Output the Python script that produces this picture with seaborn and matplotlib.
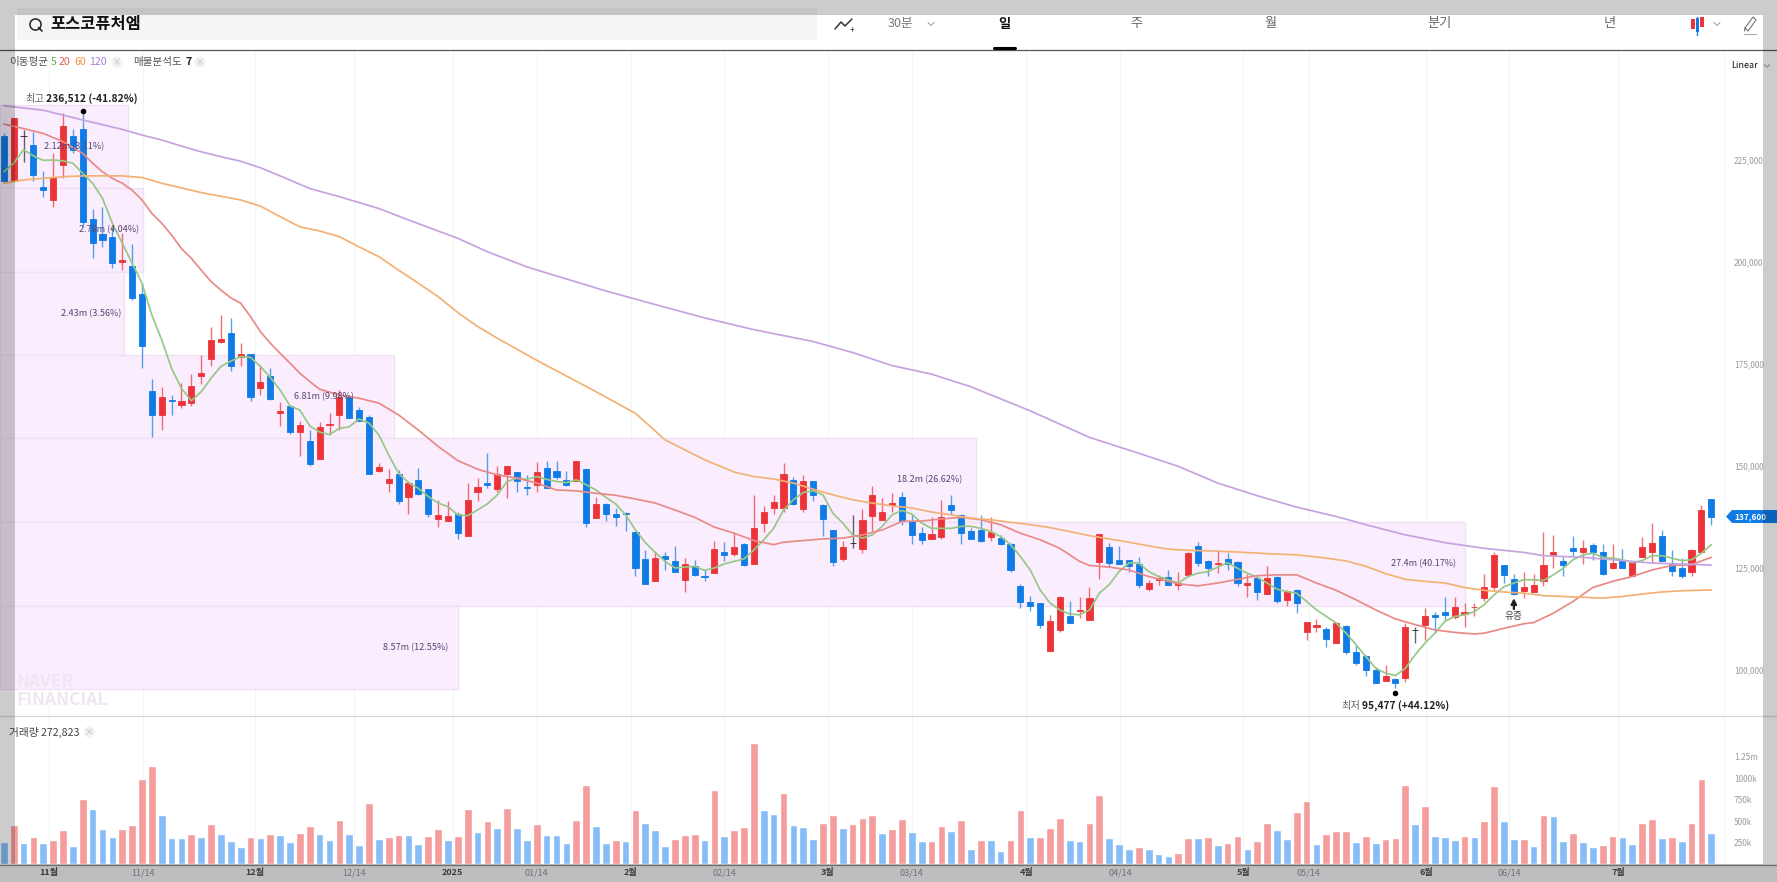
import numpy as np
import pandas as pd
import matplotlib.pyplot as plt
from matplotlib.lines import Line2D
from matplotlib.patches import Rectangle, Polygon
import seaborn as sns

W, H = 1777, 882

# candles, in thousands of won, one entry per trading day
candle_dir = ("dufdd uuddd ddudd duduu uuudu dudud uduuu ddduu duddu uduud uuddu dddud "
              "udddd duddu ddudu duuuu duddd ufuuu udddu udddd udddd duudu uuddd duudu "
              "uddud dudud uduud udddd udufu dduuu uuddu uuudd uddud uuudd duud").replace(" ", "")
highs = [231.5, 235.3, 232.3, 231.8, 222.2, 226.6, 236.4, 232.7, 236.5, 213.1, 213.5, 208.6, 207.0, 204.4, 194.8,
         171.4, 169.3, 167.4, 170.4, 172.5, 177.2, 184.0, 186.9, 186.2, 180.1, 177.4, 174.8, 173.9, 165.6, 165.0,
         160.9, 158.7, 160.7, 162.9, 168.6, 167.0, 164.4, 162.5, 150.7, 149.2, 148.9, 146.2, 149.4, 144.4, 141.7,
         141.3, 138.8, 145.9, 147.0, 153.1, 150.1, 150.1, 148.6, 147.8, 150.9, 151.2, 151.2, 148.8, 151.2, 149.6,
         142.3, 140.9, 139.7, 138.6, 134.1, 129.4, 129.0, 128.8, 130.4, 127.4, 127.0, 124.5, 131.7, 131.3, 133.7,
         131.1, 142.8, 140.1, 142.9, 150.8, 147.4, 147.8, 146.4, 140.6, 134.3, 131.7, 138.0, 139.5, 145.1, 142.1,
         143.3, 143.5, 138.2, 135.0, 137.4, 141.7, 142.8, 138.3, 134.7, 138.0, 137.4, 133.1, 131.2, 121.0, 118.0,
         116.5, 113.5, 118.0, 117.0, 117.8, 120.3, 133.4, 131.1, 130.4, 127.0, 127.6, 122.1, 123.3, 124.5, 123.9,
         129.0, 131.3, 127.0, 129.3, 128.6, 126.6, 123.5, 122.7, 125.5, 122.9, 119.6, 119.9, 111.8, 112.4, 110.6,
         111.6, 110.9, 106.2, 103.7, 100.6, 101.1, 98.0, 111.6, 110.6, 115.1, 114.3, 117.8, 117.8, 116.5, 116.5,
         123.5, 129.0, 125.8, 123.5, 124.1, 123.5, 133.9, 133.1, 127.6, 132.9, 131.9, 131.1, 130.8, 130.8, 129.6,
         126.8, 132.5, 136.1, 134.3, 129.3, 127.4, 129.6, 140.5, 141.9]
body_tops = [231.0, 235.3, 231.0, 228.6, 218.4, 220.8, 233.4, 231.0, 232.7, 210.5, 206.8, 206.2, 200.5, 199.1, 192.1,
             168.3, 166.9, 166.1, 165.8, 169.6, 172.7, 180.9, 181.1, 182.5, 177.4, 177.4, 170.5, 172.1, 163.4, 164.7,
             160.1, 156.1, 159.6, 160.3, 166.8, 166.8, 163.6, 161.9, 149.7, 146.7, 148.1, 145.7, 146.6, 144.3, 137.9,
             137.7, 138.2, 141.7, 144.9, 145.7, 148.1, 150.1, 148.5, 144.9, 148.4, 149.4, 148.8, 146.5, 151.1, 149.2,
             140.7, 140.7, 138.1, 138.4, 133.9, 127.2, 127.5, 128.0, 126.6, 125.9, 125.4, 123.1, 129.7, 128.9, 130.2,
             130.8, 134.7, 138.6, 141.2, 148.1, 146.6, 146.3, 146.4, 140.5, 134.3, 130.2, 131.2, 136.8, 142.8, 138.8,
             141.0, 142.5, 136.5, 133.5, 133.2, 137.6, 140.4, 137.9, 134.1, 134.3, 133.9, 132.3, 130.8, 120.5, 116.6,
             116.4, 111.9, 117.9, 113.3, 114.6, 117.7, 133.2, 130.2, 127.0, 126.9, 125.9, 121.4, 122.5, 122.7, 121.3,
             128.6, 130.3, 126.6, 126.2, 127.2, 126.5, 121.2, 122.5, 122.6, 122.8, 119.3, 119.7, 111.8, 110.9, 110.0,
             111.5, 110.8, 104.4, 103.5, 100.0, 98.6, 97.7, 110.6, 109.9, 113.1, 113.5, 114.2, 115.3, 114.1, 115.5,
             120.2, 128.2, 125.7, 122.2, 120.2, 120.9, 125.8, 129.0, 126.6, 129.8, 129.9, 130.6, 129.0, 126.3, 126.6,
             126.7, 130.1, 131.1, 132.8, 126.0, 124.9, 129.4, 139.1, 141.9]
body_bottoms = [219.8, 219.8, 231.0, 221.4, 217.6, 215.2, 223.8, 227.4, 209.9, 204.6, 205.4, 199.7, 200.0, 191.1, 179.5,
                162.4, 162.4, 165.9, 165.0, 165.5, 172.1, 176.3, 180.3, 174.6, 176.6, 167.0, 169.2, 166.4, 163.0, 158.2,
                158.2, 150.4, 151.7, 160.1, 162.4, 161.7, 161.1, 148.1, 148.8, 145.7, 141.4, 142.4, 143.1, 138.3, 136.9,
                136.6, 133.5, 132.9, 143.5, 145.4, 144.3, 148.0, 146.3, 144.6, 145.4, 144.7, 147.3, 145.4, 146.3, 136.1,
                137.2, 138.2, 137.6, 138.2, 125.1, 121.1, 121.8, 127.2, 124.0, 122.0, 123.2, 122.8, 123.8, 128.2, 128.5,
                125.8, 126.0, 136.0, 139.6, 139.7, 140.7, 139.5, 142.8, 137.0, 126.4, 127.2, 131.2, 129.6, 137.8, 136.8,
                140.5, 136.6, 133.1, 131.9, 132.2, 132.7, 139.1, 133.5, 132.2, 131.5, 132.7, 130.8, 124.5, 116.7, 115.7,
                111.0, 104.7, 109.8, 111.6, 114.4, 112.3, 126.5, 126.2, 126.0, 125.4, 120.9, 119.9, 122.0, 120.8, 120.9,
                123.3, 126.2, 124.9, 125.9, 126.0, 121.3, 120.8, 119.0, 118.7, 116.9, 117.2, 116.5, 109.4, 110.5, 107.6,
                106.6, 104.5, 101.7, 100.0, 96.9, 97.4, 96.8, 98.0, 109.9, 111.0, 112.9, 113.4, 112.9, 113.8, 115.3,
                117.7, 120.2, 123.2, 118.5, 119.3, 119.1, 121.7, 128.2, 125.8, 129.1, 128.9, 129.0, 123.5, 124.9, 125.0,
                123.1, 127.6, 128.9, 126.7, 124.3, 123.1, 124.0, 128.9, 137.6]
lows = [219.8, 219.8, 224.6, 219.9, 216.0, 213.5, 220.5, 226.6, 208.6, 200.9, 203.7, 198.4, 198.0, 190.7, 173.9,
        157.0, 158.8, 162.5, 164.1, 164.6, 170.1, 174.6, 180.2, 173.3, 174.6, 165.9, 167.4, 166.2, 159.9, 157.8,
        152.5, 150.1, 151.7, 157.6, 158.8, 161.7, 160.9, 148.1, 148.5, 143.7, 140.7, 138.1, 142.9, 137.6, 135.1,
        136.6, 132.2, 132.9, 141.3, 144.5, 143.7, 142.1, 143.7, 142.9, 143.5, 144.5, 146.7, 145.2, 146.2, 135.1,
        137.2, 136.4, 135.2, 134.1, 122.9, 121.1, 121.8, 124.5, 124.0, 119.0, 123.1, 121.7, 123.7, 126.6, 128.0,
        125.4, 126.0, 133.8, 138.2, 138.6, 140.5, 138.8, 141.5, 132.9, 125.4, 126.7, 129.8, 128.6, 134.1, 136.8,
        138.6, 135.6, 130.9, 130.9, 132.1, 132.1, 138.0, 130.9, 132.1, 131.4, 131.5, 130.7, 123.9, 115.1, 114.5,
        110.2, 104.7, 109.4, 111.6, 112.7, 112.3, 122.2, 125.4, 125.9, 124.1, 120.0, 119.4, 120.7, 120.7, 119.6,
        123.3, 125.5, 123.1, 123.7, 124.5, 120.6, 117.8, 117.2, 118.7, 116.4, 115.7, 113.9, 107.4, 109.3, 105.7,
        106.6, 103.9, 101.1, 98.6, 96.9, 97.4, 95.5, 97.0, 106.7, 107.4, 109.0, 112.3, 112.4, 110.5, 113.1,
        116.8, 119.6, 121.3, 118.4, 117.6, 119.1, 120.5, 124.9, 122.9, 127.8, 126.0, 127.0, 123.3, 124.8, 124.9,
        123.1, 127.6, 126.2, 126.6, 123.1, 122.5, 123.1, 128.6, 135.4]
last_price = 137.6

# volume in thousands of shares
volumes = [256, 453, 244, 310, 244, 275, 395, 213, 760, 643, 403, 318, 403, 453, 992, 1140, 570, 298, 298, 349,
           318, 465, 349, 267, 202, 318, 298, 349, 341, 256, 360, 446, 349, 275, 508, 349, 225, 709, 287, 318,
           341, 341, 236, 329, 403, 275, 329, 643, 372, 496, 422, 655, 422, 275, 465, 341, 341, 244, 508, 926,
           446, 244, 275, 267, 624, 477, 391, 213, 287, 341, 349, 275, 857, 329, 391, 434, 1411, 632, 581, 833,
           453, 434, 287, 477, 570, 415, 465, 539, 570, 360, 403, 527, 372, 267, 267, 446, 384, 508, 171, 275,
           275, 151, 275, 632, 318, 318, 415, 539, 275, 267, 477, 810, 298, 236, 171, 194, 171, 120, 97, 128,
           298, 298, 318, 225, 244, 329, 171, 267, 477, 391, 287, 601, 729, 236, 349, 380, 380, 256, 329, 244,
           287, 298, 915, 465, 674, 329, 310, 275, 329, 310, 496, 907, 496, 287, 287, 213, 570, 562, 267, 360,
           256, 194, 225, 329, 318, 236, 477, 519, 298, 310, 267, 477, 992, 360]
volume_dir = ("brbrb rrbrb bbrrr rbbbr brbbb rbrbb rrbbr bbrbr rbbrr brrbr brbbr bbbrr "
              "bbrbr bbbrr rbrbr rrbbr bbbrr brrrb rrbbr rbrbr bbrrb rrrbb rrbbb rbbbr "
              "rbrbr rbrrb brrbr rrbrb rrrbr bbbrb rrbbr brbbr bbrrb brrbr brrb").replace(" ", "")

# moving averages
ma5 = [222.1, 224.2, 227.5, 226.0, 224.9, 225.0, 224.8, 224.2, 221.7, 219.3, 215.6, 209.5, 204.6, 199.7, 194.8,
       187.0, 180.9, 173.9, 169.0, 166.0, 168.2, 171.5, 174.4, 175.7, 176.8, 176.6, 174.4, 171.7, 168.6, 164.7,
       163.7, 159.8, 158.3, 157.7, 159.2, 159.6, 161.5, 160.5, 157.6, 152.7, 148.2, 145.9, 144.5, 142.5, 140.9,
       140.0, 138.0, 137.8, 139.2, 140.7, 142.9, 146.2, 147.0, 146.7, 147.4, 146.7, 146.2, 145.9, 146.6, 145.4,
       144.1, 142.3, 140.7, 138.0, 134.3, 131.2, 128.8, 126.6, 125.0, 125.2, 125.4, 124.4, 125.0, 126.0, 126.6,
       127.2, 129.4, 131.9, 134.7, 139.2, 141.7, 143.5, 143.9, 142.9, 138.4, 136.0, 133.1, 132.3, 133.1, 135.2,
       138.0, 139.1, 138.2, 136.0, 134.7, 134.7, 134.7, 135.2, 135.2, 134.7, 133.9, 132.7, 130.7, 127.8, 124.5,
       119.6, 116.4, 114.7, 113.7, 113.5, 114.7, 118.8, 120.9, 124.1, 126.2, 126.2, 124.1, 122.9, 122.1, 121.3,
       122.9, 123.7, 124.1, 125.2, 126.3, 124.9, 123.7, 122.7, 121.3, 119.8, 119.2, 118.8, 116.8, 114.7, 113.1,
       111.5, 109.0, 106.2, 103.3, 100.4, 99.2, 98.6, 100.4, 103.7, 106.6, 109.0, 111.9, 113.1, 113.5, 114.3,
       116.0, 118.4, 120.4, 121.3, 122.1, 122.1, 121.9, 123.3, 124.9, 127.0, 128.2, 128.6, 127.6, 127.4, 127.0,
       126.3, 126.8, 128.0, 128.0, 127.4, 126.8, 127.0, 128.6, 130.7]
ma20_days = [0, 2, 4, 6, 8, 9, 10, 11, 12, 13, 14, 15, 16, 17, 18, 19, 20, 21, 22, 23, 24, 25, 26, 27, 28, 29, 30, 31, 32,
             34, 36, 38, 40, 42, 44, 46, 48, 50, 52, 54, 56, 58, 60, 62, 64, 66, 68, 70, 72, 74, 76, 78, 79, 81, 83, 85,
             87, 89, 91, 93, 95, 97, 99, 101, 103, 105, 107, 109, 110, 112, 114, 116, 118, 119, 121, 123, 125, 127, 129,
             131, 133, 135, 137, 139, 141, 143, 145, 147, 149, 150, 152, 154, 155, 157, 159, 161, 163, 165, 167, 169,
             171, 173]
ma20 = [233.8, 232.7, 231.5, 229.5, 226.6, 224.2, 222.1, 220.5, 219.3, 217.6, 215.2, 211.9, 209.5, 206.6, 203.3, 200.9,
        198.0, 195.2, 193.1, 191.2, 189.9, 186.6, 182.9, 180.1, 177.6, 175.2, 172.7, 170.7, 168.8, 167.4, 166.6, 165.4,
        162.5, 158.8, 154.8, 151.3, 149.2, 147.8, 147.0, 145.8, 144.1, 143.9, 143.3, 142.8, 141.9, 140.9, 139.2, 137.4,
        135.0, 133.5, 131.7, 130.7, 131.3, 131.7, 132.1, 132.3, 133.1, 134.3, 136.4, 136.5, 137.0, 137.4, 136.8, 135.6,
        133.5, 131.9, 129.8, 126.6, 125.6, 125.2, 124.5, 122.9, 121.7, 121.1, 120.6, 121.3, 122.2, 123.1, 123.3, 123.3,
        121.3, 119.5, 117.2, 114.7, 112.5, 111.1, 109.8, 109.2, 108.8, 109.0, 110.2, 111.3, 111.6, 113.9, 116.8, 120.2,
        121.7, 122.9, 124.5, 125.6, 125.8, 127.6]
ma60_days = [0, 2, 4, 6, 8, 12, 14, 16, 20, 24, 26, 28, 30, 32, 34, 36, 38, 40, 42, 44, 46, 48, 50, 52, 54, 60, 64, 67,
             71, 74, 76, 78, 80, 82, 84, 86, 88, 90, 92, 94, 96, 98, 100, 102, 104, 106, 108, 110, 112, 114, 116, 118,
             120, 122, 125, 128, 131, 134, 136, 138, 140, 142, 144, 146, 148, 150, 152, 154, 156, 158, 160, 162, 164,
             166, 168, 170, 173]
ma60 = [219.3, 220.1, 220.5, 220.9, 221.1, 221.1, 220.7, 219.3, 217.0, 215.2, 213.7, 211.1, 208.6, 207.6, 206.2, 203.7,
        201.3, 198.0, 194.8, 191.5, 187.6, 184.2, 181.3, 178.6, 175.9, 168.2, 162.9, 156.4, 151.5, 148.5, 147.4,
        146.8, 145.8, 144.3, 142.9, 141.7, 140.9, 140.2, 139.7, 138.7, 138.0, 137.2, 136.8, 136.2, 135.6, 134.9, 133.9,
        132.9, 132.1, 131.3, 130.4, 129.6, 129.3, 129.2, 128.9, 128.5, 128.2, 127.4, 126.7, 125.4, 123.6, 122.2, 121.7,
        121.3, 120.2, 119.5, 119.1, 118.8, 118.2, 118.0, 117.8, 117.6, 118.0, 118.6, 119.1, 119.4, 119.6]
ma120_days = [0, 4, 6, 8, 12, 14, 16, 18, 20, 22, 24, 26, 28, 31, 34, 38, 41, 46, 49, 53, 55, 61, 67, 71, 76, 82, 86, 90,
              94, 98, 104, 110, 115, 119, 123, 127, 131, 135, 138, 142, 146, 150, 154, 156, 160, 164, 167, 173]
ma120 = [238.3, 237.2, 236.0, 234.8, 232.5, 231.1, 229.9, 228.4, 227.0, 225.8, 224.7, 223.1, 221.1, 218.0, 216.0,
         213.1, 210.3, 205.8, 202.5, 198.8, 197.3, 192.9, 188.9, 186.3, 183.4, 180.5, 177.8, 174.6, 172.5, 169.4, 163.5,
         157.0, 153.1, 149.9, 145.8, 142.7, 139.9, 137.6, 135.6, 133.1, 131.2, 129.8, 128.8, 128.0, 127.6, 126.8, 126.2,
         125.7]

# 매물분석도 (price-volume profile), top to bottom
profile_edges = [238.5, 218.1, 197.5, 177.2, 156.9, 136.3, 115.7, 95.3]
profile_ends = [12.6, 14.1, 12.2, 39.5, 98.5, 148.0, 46.0]
profile_labels = ["2.12m (3.11%)", "2.76m (4.04%)", "2.43m (3.56%)", "6.81m (9.98%)",
                  "18.2m (26.62%)", "27.4m (40.17%)", "8.57m (12.55%)"]
profile_label_days = [7.17, 10.66, 8.84, 32.44, 93.84, 143.84, 41.76]

price_ticks = [100, 125, 150, 175, 200, 225]
price_tick_labels = ["100,000", "125,000", "150,000", "175,000", "200,000", "225,000"]
volume_ticks = [250, 500, 750, 1000, 1250]
volume_tick_labels = ["250k", "500k", "750k", "1000k", "1.25m"]
date_ticks = [4.54, 14.08, 25.45, 35.5, 45.5, 54.0, 63.5, 73.0, 83.5, 92.0, 103.6, 113.1, 125.6, 132.2, 144.1, 152.5, 163.6]
date_labels = ["11월", "11/14", "12월", "12/14", "2025", "01/14", "2월", "02/14", "3월", "03/14",
               "4월", "04/14", "5월", "05/14", "6월", "06/14", "7월"]
tabs = ["일", "주", "월", "분기", "년"]

RED, BLUE = "#ec3338", "#0f7be6"
VOL_RED, VOL_BLUE = "#f59c9c", "#86bdf8"
C5, C20, C60, C120 = "#97c885", "#ea8a88", "#f3b274", "#c6a3e0"

sns.set_theme(style="white")
plt.rcParams["font.family"] = ["Noto Sans CJK KR", "DejaVu Sans"]

fig = plt.figure(figsize=(W / 100, H / 100), dpi=100, facecolor="white")
ax = fig.add_axes([0, (H - 716) / H, 1, (716 - 50) / H])
ax_vol = fig.add_axes([0, (H - 864) / H, 1, (864 - 716) / H])

XMIN, XMAX = -0.385, 179.66


def fx(x):
    return x / W


def fy(y):
    return 1 - y / H


def ftext(x, y, s, **kw):
    kw.setdefault("va", "center")
    return fig.text(fx(x), fy(y), s, **kw)


def chevron(x, y, size=3, color="#999999"):
    fig.add_artist(Line2D([fx(x - size), fx(x), fx(x + size)], [fy(y - size / 2), fy(y + size / 2), fy(y - size / 2)],
                          color=color, linewidth=0.7, zorder=2))


# profile bands
edges = np.array(profile_edges)
ax.barh((edges[:-1] + edges[1:]) / 2, np.array(profile_ends) - XMIN, height=edges[:-1] - edges[1:], left=XMIN,
        color="#faedfe", edgecolor="#f0e2f6", linewidth=1, zorder=1)
ax.text(1.3, 94.85, "NAVER\nFINANCIAL", color="#efe6f3", fontsize=12.5, fontweight="bold", va="center",
        linespacing=0.95, zorder=1)

# candles
days = np.arange(len(candle_dir))
candles = pd.DataFrame({"day": days, "dir": list(candle_dir), "high": highs, "low": lows,
                        "top": body_tops, "bottom": body_bottoms})
candle_colors = {"u": RED, "d": BLUE, "f": "#222222"}
for d, group in candles.groupby("dir"):
    ax.vlines(group["day"], group["low"], group["high"], color=candle_colors[d], linewidth=1, alpha=0.7, zorder=2)
    ax.bar(group["day"], group["top"] - group["bottom"], bottom=group["bottom"], width=0.62,
           color=candle_colors[d], edgecolor=candle_colors[d], linewidth=0.6, zorder=3)

# moving averages
for xs, ys, c in [(days, ma5, C5), (ma20_days, ma20, C20), (ma60_days, ma60, C60), (ma120_days, ma120, C120)]:
    sns.lineplot(x=xs, y=ys, color=c, linewidth=1.25, estimator=None, ax=ax, zorder=4)

for centre, label, day in zip((edges[:-1] + edges[1:]) / 2, profile_labels, profile_label_days):
    ax.text(day, centre, label, color="#55456f", fontsize=6.5, ha="center", va="center", zorder=6)

ax.plot([8], [237.1], "o", color="black", markersize=3, zorder=5)
ax.plot([141], [94.4], "o", color="black", markersize=3, zorder=5)
ax.annotate("", xy=(153, 117.6), xytext=(153, 114.9),
            arrowprops=dict(arrowstyle="-|>", color="#222222", lw=1.6, mutation_scale=8, shrinkA=0, shrinkB=0), zorder=5)
ax.text(153, 113.3, "유증", color="#444444", fontsize=7, ha="center", va="center", zorder=5)

ax.set_xlim(XMIN, XMAX)
ax.set_ylim(88.7, 251.96)
ax.yaxis.tick_right()
ax.set_yticks(price_ticks, price_tick_labels)
ax.tick_params(axis="y", length=0, pad=-31, labelsize=6, labelcolor="#9b9b9b")
ax.set_xticks(date_ticks + [174.3], [""] * len(date_ticks) + [""])
ax.tick_params(axis="x", length=0)
ax.grid(axis="x", color="#f3f4f5", linewidth=0.8)
ax.set_axisbelow(True)
for s in ax.spines.values():
    s.set_visible(False)
ax.set_xlabel("")
ax.set_ylabel("")

# volume bars
vol_df = pd.DataFrame({"day": days, "volume": volumes, "side": list(volume_dir)})
sns.barplot(data=vol_df, x="day", y="volume", hue="side", palette={"r": VOL_RED, "b": VOL_BLUE}, native_scale=True,
            width=0.78, dodge=False, saturation=1, legend=False, ax=ax_vol, zorder=3)
ax_vol.set_xlim(XMIN, XMAX)
ax_vol.set_ylim(0, 1725)
ax_vol.yaxis.tick_right()
ax_vol.set_yticks(volume_ticks, volume_tick_labels)
ax_vol.tick_params(axis="y", length=0, pad=-31, labelsize=6, labelcolor="#9b9b9b")
ax_vol.set_xticks(date_ticks + [174.3], date_labels + [""])
ax_vol.tick_params(axis="x", length=0, pad=3, labelsize=6.5, labelcolor="#8d8f93")
for lab in ax_vol.get_xticklabels():
    if lab.get_text().endswith("월") or lab.get_text() == "2025":
        lab.set_fontweight("bold")
        lab.set_color("#4a4a4a")
ax_vol.grid(axis="x", color="#f3f4f5", linewidth=0.8)
ax_vol.set_axisbelow(True)
for s in ax_vol.spines.values():
    s.set_visible(False)
ax_vol.set_xlabel("")
ax_vol.set_ylabel("")

# frame lines and bottom strip
fig.add_artist(Rectangle((0, 0), 1, (H - 864) / H, transform=fig.transFigure, fc="#eceef1", ec="none", zorder=0))
fig.add_artist(Line2D([0, 1], [fy(49.5)] * 2, color="#555555", linewidth=0.9, zorder=5))
fig.add_artist(Line2D([0, 1], [fy(716)] * 2, color="#d6d8e0", linewidth=0.9, zorder=5))
fig.add_artist(Line2D([0, 1], [fy(864.5)] * 2, color="#8a8a8a", linewidth=0.9, zorder=5))
fig.add_artist(Line2D([fx(994), fx(1015)], [fy(48)] * 2, color="black", linewidth=2.2, zorder=6))

# header
fig.add_artist(Rectangle((fx(17), fy(40)), fx(800), 32 / H, transform=fig.transFigure, fc="#f3f5f7", ec="none", zorder=1))
fig.add_artist(Line2D([fx(35)], [fy(23.5)], marker="o", markersize=8, mfc="none", mec="#222222", mew=1.1, zorder=2))
fig.add_artist(Line2D([fx(38.5), fx(42)], [fy(27.5), fy(31)], color="#222222", linewidth=1.2, zorder=2))
ftext(50, 24, "포스코퓨처엠", fontsize=11.8, fontweight="bold", color="#111111")
fig.add_artist(Line2D([fx(x) for x in (835, 841, 845, 852)], [fy(y) for y in (29, 22, 26, 19)],
                      color="#333333", linewidth=1.1, zorder=2))
ftext(852, 31, "+", fontsize=6, color="#333333", ha="center")
ftext(900, 24, "30분", fontsize=9, color="#777777", ha="center")
chevron(931, 24)
for name, x, bold in zip(tabs, [1004, 1136, 1270, 1440, 1610], [True, False, False, False, False]):
    ftext(x, 24, name, fontsize=9.5, ha="center", color="#111111" if bold else "#666666",
          fontweight="bold" if bold else "normal")
fig.add_artist(Line2D([fx(1697)] * 2, [fy(17), fy(35)], color=BLUE, linewidth=1, zorder=2))
fig.add_artist(Rectangle((fx(1691), fy(29)), 3.5 / W, 10 / H, transform=fig.transFigure, fc=RED, ec="none", zorder=3))
fig.add_artist(Rectangle((fx(1695.5), fy(32)), 3.5 / W, 14 / H, transform=fig.transFigure, fc=BLUE, ec="none", zorder=3))
fig.add_artist(Rectangle((fx(1700), fy(27)), 3.5 / W, 10 / H, transform=fig.transFigure, fc=RED, ec="none", zorder=3))
chevron(1717, 24)
fig.add_artist(Line2D([fx(1745), fx(1748), fx(1756), fx(1753), fx(1745), fx(1744.5)],
                      [fy(28), fy(31), fy(20), fy(17), fy(28), fy(31)], color="#777777", linewidth=0.8, zorder=2))
fig.add_artist(Line2D([fx(1744), fx(1756)], [fy(34), fy(34)], color="#aaaaaa", linewidth=0.8, zorder=2))
ftext(1744, 65, "Linear", fontsize=6.5, color="#111111", ha="center")
chevron(1767, 66, size=2.5)

# legend row
ftext(9, 62, "이동평균", fontsize=7.6, color="#555555")
ftext(51, 62, "5", fontsize=7.6, color="#55b04f")
ftext(59, 62, "20", fontsize=7.6, color="#e0605a")
ftext(74, 62, "60", fontsize=7.6, color="#f0923c")
ftext(89, 62, "120", fontsize=7.6, color="#a67fd6")
ftext(133, 62, "매물분석도", fontsize=7.6, color="#555555")
ftext(185, 62, "7", fontsize=7.6, color="#222222", fontweight="bold")
ftext(9, 732, "거래량 272,823", fontsize=7.7, color="#444444")
for x, y in [(117, 62), (200, 62), (89, 732)]:
    ftext(x, y, "×", fontsize=6, color="#b5b5b5", ha="center",
          bbox=dict(boxstyle="circle,pad=0.12", fc="#f2f2f2", ec="none"))

# high / low notes
ftext(25, 98.7, "최고", fontsize=7.4, color="#666666")
ftext(46, 98.7, "236,512 (-41.82%)", fontsize=7.4, color="#222222", fontweight="bold")
ftext(1341.5, 705.7, "최저", fontsize=7.4, color="#666666")
ftext(1362, 705.7, "95,477 (+44.12%)", fontsize=7.4, color="#222222", fontweight="bold")

# last price tag, same height as the price on the axis
ax.set_position(ax.get_position())
tag_y = H - ax.transData.transform((0, last_price))[1] * H / fig.bbox.height
fig.add_artist(Polygon([(fx(1726), fy(tag_y)), (fx(1732), fy(tag_y - 6.5)), (1, fy(tag_y - 6.5)),
                        (1, fy(tag_y + 6.5)), (fx(1732), fy(tag_y + 6.5))],
                       transform=fig.transFigure, fc=BLUE, ec="none", zorder=8))
ftext(1734, tag_y, "137,600", fontsize=6, color="white", fontweight="bold", zorder=9)

# screenshot's grey margins
shade = dict(transform=fig.transFigure, fc="black", ec="none", alpha=0.2, zorder=20)
fig.add_artist(Rectangle((0, fy(15)), 1, 15 / H, **shade))
fig.add_artist(Rectangle((0, 0), fx(15), fy(15), **shade))
fig.add_artist(Rectangle((fx(1763), 0), 14 / W, fy(15), **shade))
fig.add_artist(Rectangle((fx(15), 0), fx(1748), 18 / H, **shade))

fig.savefig("out.png", dpi=100)
